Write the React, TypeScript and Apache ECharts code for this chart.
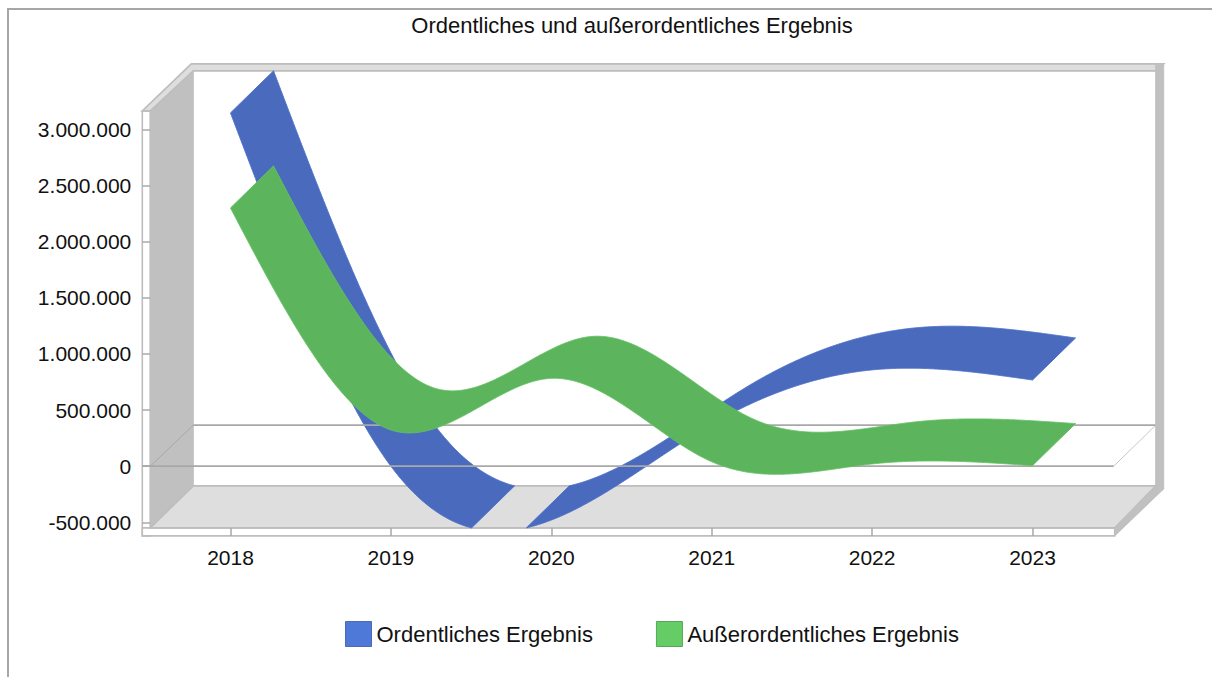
import React, { useEffect, useRef } from "react";
import * as echarts from "echarts";

const categories = ["2018", "2019", "2020", "2021", "2022", "2023"];
const ordentlich = [3148000, 0, -480000, 374000, 858000, 768000];
const ausserordentlich = [2301000, 323000, 783000, 40000, 20000, 5000];
const seriesNames = ["Ordentliches Ergebnis", "Außerordentliches Ergebnis"];

const FLOOR_VALUE = -550000;
const DX = 43;
const DY = -42;
const FONT = "'Liberation Sans', Arial, sans-serif";

function naturalSecondDerivs(v: number[]) {
  const n = v.length;
  const c = new Array(n).fill(0);
  const d = new Array(n).fill(0);
  for (let i = 1; i < n - 1; i++) {
    const r = 6 * (v[i + 1] - 2 * v[i] + v[i - 1]);
    const m = 4 - c[i - 1];
    c[i] = 1 / m;
    d[i] = (r - d[i - 1]) / m;
  }
  const s = new Array(n).fill(0);
  for (let i = n - 2; i > 0; i--) s[i] = d[i] - c[i] * s[i + 1];
  return s;
}

function splineAt(v: number[], s: number[], u: number) {
  const i = Math.min(Math.floor(u), v.length - 2);
  const t = u - i;
  const a = 1 - t;
  return a * v[i] + t * v[i + 1] + ((a * a * a - a) * s[i] + (t * t * t - t) * s[i + 1]) / 6;
}

function ribbonItem(values: number[], fill: string, edge: string) {
  return (params: any, api: any) => {
    if (params.dataIndex !== 0) return null;
    const x0 = api.coord([0, 0])[0];
    const step = api.coord([1, 0])[0] - x0;
    const s = naturalSecondDerivs(values);
    const pieces: number[][][] = [];
    let current: number[][] | null = null;
    const samples = Math.round((values.length - 1) * step);
    for (let k = 0; k <= samples; k++) {
      const u = (k / samples) * (values.length - 1);
      const val = splineAt(values, s, u);
      if (val >= FLOOR_VALUE) {
        if (!current) {
          current = [];
          pieces.push(current);
        }
        current.push([x0 + u * step, api.coord([0, val])[1]]);
      } else {
        current = null;
      }
    }
    return {
      type: "group",
      children: pieces.map((front) => ({
        type: "polygon",
        shape: { points: [...front, ...front.slice().reverse().map((p) => [p[0] + DX, p[1] + DY])] },
        style: { fill, stroke: edge, lineWidth: 1 },
      })),
    };
  };
}

function wallsItem(params: any, api: any) {
  const x0 = api.coord([0, 0])[0];
  const step = api.coord([1, 0])[0] - x0;
  const L = x0 - step / 2;
  const R = x0 + step * (categories.length - 0.5);
  const B = api.coord([0, FLOOR_VALUE])[1];
  const T = B - 417;
  const line = "#bdbdbd";
  const poly = (points: number[][], fill: string, stroke?: string) => ({
    type: "polygon",
    shape: { points },
    style: { fill, stroke: stroke || fill, lineWidth: stroke ? 1.6 : 1 },
  });
  return {
    type: "group",
    children: [
      poly([[L - 8, T], [L, T], [L, B + 8], [L - 8, B + 8]], "#ffffff", line),
      poly([[L - 8, B], [R + 2, B], [R + 2, B + 8], [L - 8, B + 8]], "#ffffff", line),
      poly([[L, T], [L + DX, T + DY + 2], [L + DX, B + DY], [L, B]], "#c0c0c0"),
      poly(
        [[L - 8, T], [L + DX - 2, T - 47], [R + DX + 8, T - 47], [R + DX, T + DY + 2], [L + DX, T + DY + 2], [L, T]],
        "#dedede",
        line
      ),
      poly([[R + DX, T - 47], [R + DX + 8, T - 47], [R + DX + 8, B + DY + 3], [R + DX, B + DY]], "#c0c0c0"),
      poly([[L, B], [L + DX, B + DY], [R + DX, B + DY], [R + 2, B]], "#dedede", line),
      poly([[R + DX, B + DY], [R + DX + 8, B + DY + 3], [R + 2, B + 8], [R + 2, B]], "#c0c0c0"),
    ],
  };
}

function zeroPlaneItem(params: any, api: any) {
  const x0 = api.coord([0, 0])[0];
  const step = api.coord([1, 0])[0] - x0;
  const L = x0 - step / 2;
  const R = x0 + step * (categories.length - 0.5);
  const Z = api.coord([0, 0])[1];
  const seg = (x1: number, y1: number, x2: number, y2: number, stroke: string, lineWidth: number) => ({
    type: "line",
    shape: { x1, y1, x2, y2 },
    style: { stroke, lineWidth },
  });
  return {
    type: "group",
    children: [
      seg(L + DX, Z + DY + 1, R + DX, Z + DY + 1, "#a8a8a8", 1.8),
      seg(L, Z, L + DX, Z + DY + 1, "#a8a8a8", 1),
      seg(R + 1, Z, R + DX, Z + DY + 1, "#c8c8c8", 1),
      seg(L - 8, Z, R + 1, Z, "#a8a8a8", 1.8),
    ],
  };
}

export default function App() {
  const ref = useRef<HTMLDivElement>(null);
  useEffect(() => {
    const chart = echarts.init(ref.current!, undefined, { renderer: "svg" });
    const tickFmt = (v: number) => String(v).replace(/\B(?=(\d{3})+(?!\d))/g, ".");
    chart.setOption({
      animation: false,
      backgroundColor: "#ffffff",
      title: {
        text: "Ordentliches und außerordentliches Ergebnis",
        left: 627,
        top: 9,
        textAlign: "center",
        textStyle: { fontFamily: FONT, fontSize: 22, fontWeight: "normal", color: "#111111" },
      },
      graphic: [
        { type: "line", shape: { x1: 8, y1: 9, x2: 8, y2: 677 }, style: { stroke: "#a6a6a6", lineWidth: 2 } },
        { type: "line", shape: { x1: 7, y1: 9, x2: 1212, y2: 9 }, style: { stroke: "#a6a6a6", lineWidth: 2 } },
      ],
      legend: {
        left: 345,
        top: 621,
        padding: 0,
        itemWidth: 26,
        itemHeight: 25,
        itemGap: 63,
        textStyle: { fontFamily: FONT, fontSize: 22, color: "#111111" },
        data: [
          { name: seriesNames[0], icon: "rect", itemStyle: { color: "#4f79d8", borderColor: "#4a6cb0", borderWidth: 1 } },
          { name: seriesNames[1], icon: "rect", itemStyle: { color: "#66cc66", borderColor: "#55a855", borderWidth: 1 } },
        ],
      },
      grid: { left: 150.3, top: 129.5, width: 962.4, height: 392.8 },
      xAxis: {
        type: "category",
        data: categories,
        offset: 5.7,
        axisLine: { show: false, onZero: false },
        axisTick: { show: true, alignWithLabel: true, length: 8, lineStyle: { color: "#a8a8a8", width: 1.5 } },
        axisLabel: { fontFamily: FONT, fontSize: 21, color: "#111111", margin: 19 },
        z: 5,
      },
      yAxis: {
        type: "value",
        min: -500000,
        max: 3000000,
        interval: 500000,
        axisLine: { show: false },
        axisTick: { show: true, length: 8, lineStyle: { color: "#a8a8a8", width: 1.5 } },
        splitLine: { show: false },
        axisLabel: { fontFamily: FONT, fontSize: 21, color: "#111111", margin: 19, formatter: tickFmt },
        z: 5,
      },
      series: [
        { type: "custom", name: "walls", z: 1, silent: true, renderItem: wallsItem, data: [[0, 0]] },
        {
          type: "custom",
          name: seriesNames[0],
          z: 2,
          itemStyle: { color: "#4a6bbd" },
          renderItem: ribbonItem(ordentlich, "#4a6bbd", "#4a6fc8"),
          data: ordentlich.map((v, i) => [i, v]),
        },
        { type: "custom", name: "zero", z: 3, silent: true, renderItem: zeroPlaneItem, data: [[0, 0]] },
        {
          type: "custom",
          name: seriesNames[1],
          z: 4,
          itemStyle: { color: "#5cb45c" },
          renderItem: ribbonItem(ausserordentlich, "#5cb45c", "#62c262"),
          data: ausserordentlich.map((v, i) => [i, v]),
        },
      ],
    });
    return () => chart.dispose();
  }, []);
  return <div ref={ref} style={{ position: "fixed", left: 0, top: 0, width: 1212, height: 677 }} />;
}
